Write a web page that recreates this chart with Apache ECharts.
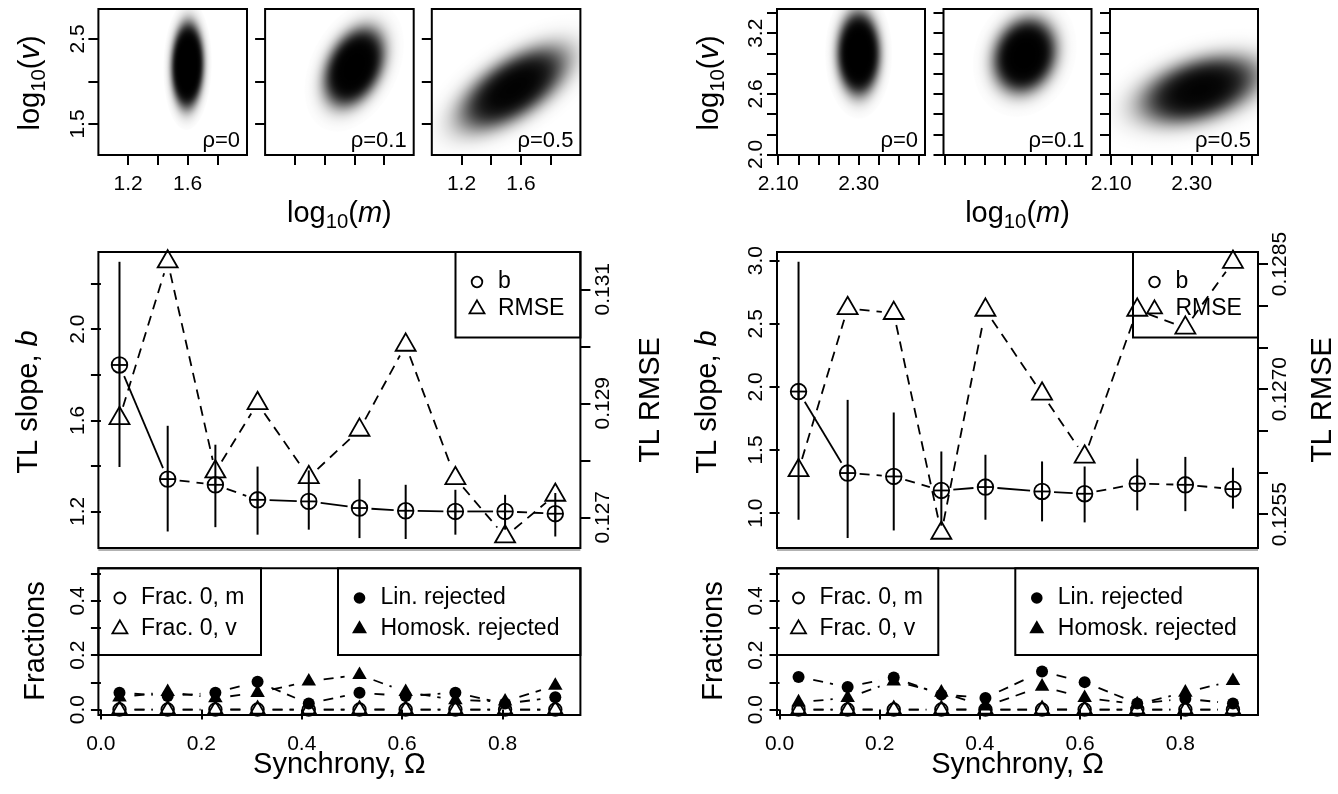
<!DOCTYPE html>
<html><head><meta charset="utf-8">
<script src="https://cdn.jsdelivr.net/npm/echarts@6/dist/echarts.min.js"></script>
<style>html,body{margin:0;padding:0;background:#fff}#c{width:1338px;height:794px}</style>
</head><body><div id="c"></div>
<script>
// ---------------- DATA ----------------
// scatter clouds: [mean log10(m), mean log10(v), sd m, sd v, correlation]
const cloudL = [[1.60, 2.19, 0.043, 0.20, 0.05], [1.60, 2.17, 0.088, 0.20, 0.35], [1.55, 1.92, 0.17, 0.23, 0.62]];
const cloudR = [[2.300, 3.00, 0.022, 0.17, 0.0], [2.299, 2.98, 0.034, 0.16, 0.15], [2.320, 2.64, 0.070, 0.16, 0.40]];
const rhoLabels = ['ρ=0', 'ρ=0.1', 'ρ=0.5'];

const omegaL = [0.037, 0.133, 0.228, 0.312, 0.414, 0.515, 0.607, 0.706, 0.805, 0.905];
const omegaR = [0.038, 0.136, 0.228, 0.323, 0.411, 0.524, 0.609, 0.714, 0.810, 0.905];

const bL    = [1.843, 1.342, 1.317, 1.251, 1.244, 1.215, 1.203, 1.200, 1.200, 1.190];
const bLoL  = [1.395, 1.112, 1.131, 1.098, 1.120, 1.083, 1.079, 1.098, 1.120, 1.090];
const bHiL  = [2.296, 1.576, 1.493, 1.397, 1.380, 1.342, 1.317, 1.295, 1.273, 1.281];
const rmseL = [0.128737, 0.131484, 0.127800, 0.129000, 0.127702, 0.128532, 0.130023, 0.127684, 0.126660, 0.127391];
const bLineL = ['solid', 'dashed', 'dashed', 'solid', 'solid', 'solid', 'solid', 'solid', 'dashed'];

const bR    = [1.963, 1.317, 1.290, 1.179, 1.206, 1.171, 1.153, 1.233, 1.224, 1.190];
const bLoR  = [0.947, 0.802, 0.862, 0.900, 0.947, 0.934, 0.926, 1.021, 1.015, 1.035];
const bHiR  = [2.992, 1.897, 1.797, 1.488, 1.462, 1.409, 1.369, 1.431, 1.445, 1.359];
const rmseR = [0.126025, 0.127969, 0.127910, 0.125275, 0.127949, 0.126943, 0.126189, 0.127949, 0.127734, 0.128524];
const bLineR = ['solid', 'dashed', 'dashed', 'solid', 'solid', 'solid', 'dashed', 'dashed', 'dashed'];

const frac0mL = [0, 0, 0, 0, 0, 0, 0, 0, 0, 0];
const frac0vL = [0, 0, 0, 0, 0, 0, 0, 0, 0, 0];
const linRejL = [0.062, 0.050, 0.062, 0.102, 0.022, 0.062, 0.050, 0.062, 0.022, 0.045];
const homRejL = [0.045, 0.065, 0.042, 0.062, 0.104, 0.128, 0.065, 0.035, 0.030, 0.088];

const frac0mR = [0, 0, 0, 0, 0, 0, 0, 0, 0, 0];
const frac0vR = [0, 0, 0, 0, 0, 0, 0, 0, 0, 0];
const linRejR = [0.120, 0.083, 0.118, 0.055, 0.043, 0.140, 0.101, 0.022, 0.040, 0.022];
const homRejR = [0.027, 0.043, 0.104, 0.063, 0.012, 0.085, 0.043, 0.020, 0.063, 0.106];

// tick values / labels
const topXTicksL = [1.2, 1.4, 1.6, 1.8], topXLabelsL = [1.2, 1.6];
const topYTicksL = [1.5, 2.0, 2.5], topYLabelsL = [1.5, 2.5];
const topXTicksR = [2.10, 2.15, 2.20, 2.25, 2.30, 2.35, 2.40, 2.45], topXLabelsR = [2.10, 2.30];
const topYTicksR = [2.0, 2.2, 2.4, 2.6, 2.8, 3.0, 3.2, 3.4], topYLabelsR = [2.0, 2.6, 3.2];
const midYTicksL = [1.2, 1.4, 1.6, 1.8, 2.0, 2.2], midYLabelsL = [1.2, 1.6, 2.0];
const rmseTicksL = [0.127, 0.128, 0.129, 0.130, 0.131], rmseLabelsL = [0.127, 0.129, 0.131];
const midYTicksR = [1.0, 1.5, 2.0, 2.5, 3.0], midYLabelsR = [1.0, 1.5, 2.0, 2.5, 3.0];
const rmseTicksR = [0.1255, 0.1260, 0.1265, 0.1270, 0.1275, 0.1280, 0.1285], rmseLabelsR = [0.1255, 0.1270, 0.1285];
const fracTicks = [0, 0.1, 0.2, 0.3, 0.4, 0.5], fracLabels = [0, 0.2, 0.4];
const omegaTicks = [0, 0.2, 0.4, 0.6, 0.8];

// ---------------- LAYOUT / STYLE ----------------
const F = "'Liberation Sans', Arial, Helvetica, sans-serif";
const TICK = 21, TITLE = 29, LEG = 23;
const halves = [
  {x0: 98.4, w: 482, topX: [98.4, 265.1, 431.8], topW: 148.6, xr: [1.0, 2.0], yr: [1.135, 2.853],
   xT: topXTicksL, xL: topXLabelsL, yT: topYTicksL, yL: topYLabelsL, xd: 1, cloud: cloudL,
   om: omegaL, b: bL, lo: bLoL, hi: bHiL, rm: rmseL, bl: bLineL, byr: [1.0395, 2.339], ryr: [0.126461, 0.131654],
   byT: midYTicksL, byL: midYLabelsL, ryT: rmseTicksL, ryL: rmseLabelsL, rd: 3,
   f0m: frac0mL, f0v: frac0vL, lin: linRejL, hom: homRejL, legB: [455.5, 580.4], leg1: [98.4, 261], leg2: [338, 580.4],
   tx: {v: 31, slope: 29, rmse: 651, frac: 36}},
  {x0: 777, w: 481, topX: [777, 943.5, 1110], topW: 148, xr: [2.097, 2.465], yr: [1.995, 3.44],
   xT: topXTicksR, xL: topXLabelsR, yT: topYTicksR, yL: topYLabelsR, xd: 2, cloud: cloudR,
   om: omegaR, b: bR, lo: bLoR, hi: bHiR, rm: rmseR, bl: bLineR, byr: [0.723, 3.069], ryr: [0.125095, 0.128644],
   byT: midYTicksR, byL: midYLabelsR, ryT: rmseTicksR, ryL: rmseLabelsR, rd: 4,
   f0m: frac0mR, f0v: frac0vR, lin: linRejR, hom: homRejR, legB: [1133, 1258], leg1: [777, 938.3], leg2: [1015.3, 1258],
   tx: {v: 710, slope: 708, rmse: 1323, frac: 714}}
];

const grids = [], xAxes = [], yAxes = [], series = [], graphics = [];
function addGrid(left, top, width, height) {
  grids.push({left, top, width, height, show: true, borderColor: '#000', borderWidth: 2,
    backgroundColor: 'transparent', containLabel: false, outerBoundsMode: 'none'});
  return grids.length - 1;
}
function makeAxis(gridIndex, min, max, ticks, labels, digits, extra) {
  const ax = {type: 'value', gridIndex, min, max, scale: true,
    axisLine: {show: false}, splitLine: {show: false},
    axisTick: {show: ticks.length > 0, customValues: ticks, length: 10, inside: false, lineStyle: {color: '#000', width: 2}},
    axisLabel: {show: labels.length > 0, customValues: labels, formatter: v => Number(v).toFixed(digits),
      fontSize: TICK, color: '#000', fontFamily: F, margin: 19, showMinLabel: true, showMaxLabel: true}};
  return Object.assign(ax, extra || {});
}
const BLACK = '#000';
function markerShape(kind, x, y, s) {
  const lw = 1.8;
  if (kind === 'circplus') return {type: 'group', children: [
    {type: 'circle', shape: {cx: x, cy: y, r: s}, style: {fill: 'none', stroke: BLACK, lineWidth: lw}},
    {type: 'line', shape: {x1: x - s, y1: y, x2: x + s, y2: y}, style: {stroke: BLACK, lineWidth: lw}},
    {type: 'line', shape: {x1: x, y1: y - s, x2: x, y2: y + s}, style: {stroke: BLACK, lineWidth: lw}}]};
  if (kind === 'circ') return {type: 'circle', shape: {cx: x, cy: y, r: s}, style: {fill: 'none', stroke: BLACK, lineWidth: lw}};
  if (kind === 'dot') return {type: 'circle', shape: {cx: x, cy: y, r: s}, style: {fill: BLACK}};
  const w = s, h = s * 0.866;
  const pts = [[x, y - 2 * h / 3], [x + w / 2, y + h / 3], [x - w / 2, y + h / 3]];
  if (kind === 'tri') return {type: 'polygon', shape: {points: pts}, style: {fill: 'none', stroke: BLACK, lineWidth: lw}};
  return {type: 'polygon', shape: {points: pts}, style: {fill: BLACK}};
}
function markSeries(xi, yi, xs, ys, kind, size, z) {
  series.push({type: 'custom', xAxisIndex: xi, yAxisIndex: yi, z: z || 5, clip: false,
    encode: {x: 0, y: 1}, data: xs.map((x, i) => [x, ys[i]]),
    renderItem: (params, api) => { const p = api.coord([api.value(0), api.value(1)]); return markerShape(kind, p[0], p[1], size); }});
}
function segSeries(xi, yi, xs, ys, gap, types) {
  series.push({type: 'custom', xAxisIndex: xi, yAxisIndex: yi, z: 3, clip: false,
    encode: {x: [0, 2], y: [1, 3]}, data: xs.slice(0, -1).map((x, i) => [x, ys[i], xs[i + 1], ys[i + 1]]),
    renderItem: (params, api) => {
      const a = api.coord([api.value(0), api.value(1)]), b = api.coord([api.value(2), api.value(3)]);
      const dx = b[0] - a[0], dy = b[1] - a[1], L = Math.hypot(dx, dy);
      if (L <= 2 * gap) return {type: 'group', children: []};
      const ux = dx / L, uy = dy / L;
      const dashed = !types || types[params.dataIndex] === 'dashed';
      const style = {stroke: BLACK, lineWidth: 1.8};
      if (dashed) style.lineDash = [10, 7];
      return {type: 'line', shape: {x1: a[0] + ux * gap, y1: a[1] + uy * gap, x2: b[0] - ux * gap, y2: b[1] - uy * gap}, style};
    }});
}
function errSeries(xi, yi, xs, lo, hi) {
  series.push({type: 'custom', xAxisIndex: xi, yAxisIndex: yi, z: 4, clip: false,
    encode: {x: 0, y: [1, 2]}, data: xs.map((x, i) => [x, lo[i], hi[i]]),
    renderItem: (params, api) => {
      const a = api.coord([api.value(0), api.value(1)]), b = api.coord([api.value(0), api.value(2)]);
      return {type: 'line', shape: {x1: a[0], y1: a[1], x2: b[0], y2: b[1]}, style: {stroke: BLACK, lineWidth: 2}};
    }});
}
const CLOUD_K = 1900;
function cloudSeries(xi, yi, c) {
  series.push({type: 'custom', xAxisIndex: xi, yAxisIndex: yi, z: 2, clip: true,
    encode: {x: 0, y: 1}, data: [c],
    renderItem: (params, api) => {
      const p = api.coord([api.value(0), api.value(1)]);
      const s = api.size([1, 1]);
      const sx = api.value(2) * s[0], sy = api.value(3) * s[1], r = api.value(4);
      const Sxx = sx * sx, Syy = sy * sy, Sxy = -r * sx * sy;
      const th = 0.5 * Math.atan2(2 * Sxy, Sxx - Syy);
      const hh = Math.sqrt(((Sxx - Syy) / 2) ** 2 + Sxy * Sxy);
      const l1 = (Sxx + Syy) / 2 + hh, l2 = Math.max((Sxx + Syy) / 2 - hh, 1e-6);
      const R = 3.8, keff = CLOUD_K / Math.sqrt(l1 * l2);
      const stops = [];
      for (let i = 0; i <= 30; i++) {
        const t = i / 30, rr = R * t;
        const op = 1 - Math.exp(-keff * Math.exp(-rr * rr / 2));
        stops.push({offset: t, color: 'rgba(0,0,0,' + op.toFixed(4) + ')'});
      }
      return {type: 'circle', x: p[0], y: p[1], scaleX: Math.sqrt(l1) * R, scaleY: Math.sqrt(l2) * R, rotation: -th,
        shape: {cx: 0, cy: 0, r: 1},
        style: {fill: {type: 'radial', x: 0.5, y: 0.5, r: 0.5, colorStops: stops}}};
    }});
}
function text(x, y, str, opt) {
  const o = opt || {};
  graphics.push({type: 'text', x, y, rotation: o.rot || 0, z: 10,
    style: {text: str, fill: '#000', font: (o.italic ? 'italic ' : '') + (o.size || TITLE) + 'px ' + F,
      textAlign: o.align || 'center', textVerticalAlign: o.valign || 'middle', rich: o.rich}});
}
function richTitle(size) {
  return {n: {fontSize: size, fontFamily: F, lineHeight: size * 1.25, verticalAlign: 'middle'},
          i: {fontSize: size, fontFamily: F, fontStyle: 'italic', lineHeight: size * 1.25, verticalAlign: 'middle'},
          s: {fontSize: size * 0.7, fontFamily: F, lineHeight: size * 0.6, verticalAlign: 'bottom'}};
}
function rect(x1, y1, x2, y2) {
  graphics.push({type: 'rect', z: 6, shape: {x: x1, y: y1, width: x2 - x1, height: y2 - y1},
    style: {fill: 'none', stroke: '#000', lineWidth: 2}});
}
function legendRow(x, y, kind, size, label) {
  const m = markerShape(kind, x, y, size); m.z = 7; graphics.push(m);
  text(x + 21, y, label, {size: LEG, align: 'left'});
}

// ---------------- BUILD ----------------
halves.forEach((H) => {
  // top scatter panels
  for (let k = 0; k < 3; k++) {
    const g = addGrid(H.topX[k], 9, H.topW, 146);
    const xi = xAxes.length, yi = yAxes.length;
    xAxes.push(makeAxis(g, H.xr[0], H.xr[1], H.xT, k === 1 ? [] : H.xL, H.xd, {position: 'bottom'}));
    const ya = makeAxis(g, H.yr[0], H.yr[1], H.yT, k === 0 ? H.yL : [], 1, {position: 'left'});
    ya.axisLabel.rotate = 90; ya.axisLabel.margin = 10;
    yAxes.push(ya);
    cloudSeries(xi, yi, H.cloud[k]);
    text(H.topX[k] + H.topW - 7, 141, rhoLabels[k], {size: 22, align: 'right'});
  }
  // middle panel
  const gm = addGrid(H.x0, 252, H.w, 296);
  const xm = xAxes.length;
  xAxes.push(makeAxis(gm, -0.005, 0.955, [], [], 1, {show: false}));
  const ybm = yAxes.length;
  const yb = makeAxis(gm, H.byr[0], H.byr[1], H.byT, H.byL, 1, {position: 'left'});
  yb.axisLabel.rotate = 90; yb.axisLabel.margin = 10; yAxes.push(yb);
  const yrm = yAxes.length;
  const yr = makeAxis(gm, H.ryr[0], H.ryr[1], H.ryT, H.ryL, H.rd, {position: 'right'});
  yr.axisLabel.rotate = 90; yr.axisLabel.margin = 12; yAxes.push(yr);
  errSeries(xm, ybm, H.om, H.lo, H.hi);
  segSeries(xm, ybm, H.om, H.b, 12, H.bl);
  segSeries(xm, yrm, H.om, H.rm, 12, null);
  markSeries(xm, ybm, H.om, H.b, 'circplus', 7.8, 5);
  markSeries(xm, yrm, H.om, H.rm, 'tri', 20, 5);
  // bottom panel
  const gb = addGrid(H.x0, 568.3, H.w, 146.7);
  const xb = xAxes.length;
  xAxes.push(makeAxis(gb, -0.005, 0.955, omegaTicks, omegaTicks, 1, {position: 'bottom'}));
  const yfb = yAxes.length;
  const yf = makeAxis(gb, -0.02, 0.52, fracTicks, fracLabels, 1, {position: 'left'});
  yf.axisLabel.rotate = 90; yf.axisLabel.margin = 10; yAxes.push(yf);
  segSeries(xb, yfb, H.om, H.f0m, 15, null);
  segSeries(xb, yfb, H.om, H.f0v, 15, null);
  segSeries(xb, yfb, H.om, H.lin, 15, null);
  segSeries(xb, yfb, H.om, H.hom, 15, null);
  markSeries(xb, yfb, H.om, H.f0m, 'circ', 6.3, 5);
  markSeries(xb, yfb, H.om, H.f0v, 'tri', 14.5, 5);
  markSeries(xb, yfb, H.om, H.lin, 'dot', 6, 5);
  markSeries(xb, yfb, H.om, H.hom, 'triFill', 14.5, 6);

  // legends
  rect(H.legB[0], 252, H.legB[1], 337.5);
  legendRow(H.legB[0] + 21.5, 282, 'circ', 5.3, 'b');
  legendRow(H.legB[0] + 21.5, 309, 'tri', 15, 'RMSE');
  rect(H.leg1[0], 568.3, H.leg1[1], 655);
  legendRow(H.leg1[0] + 21.5, 598, 'circ', 5.5, 'Frac. 0, m');
  legendRow(H.leg1[0] + 21.5, 629, 'tri', 15, 'Frac. 0, v');
  rect(H.leg2[0], 568.3, H.leg2[1], 655);
  legendRow(H.leg2[0] + 21.5, 598, 'dot', 5.8, 'Lin. rejected');
  legendRow(H.leg2[0] + 21.5, 629, 'triFill', 15, 'Homosk. rejected');

  // separator line
  graphics.push({type: 'line', z: 1, shape: {x1: H.x0, y1: 550, x2: H.x0 + H.w, y2: 550}, style: {stroke: '#999', lineWidth: 1.5}});

  // titles
  const cx = H.x0 + H.w / 2;
  text(H.tx.v, 83, '{n|log}{s|10}{n|(}{i|v}{n|)}', {rot: Math.PI / 2, rich: richTitle(TITLE)});
  text(cx, 214, '{n|log}{s|10}{n|(}{i|m}{n|)}', {rich: richTitle(TITLE)});
  text(H.tx.slope, 402, '{n|TL slope, }{i|b}', {rot: Math.PI / 2, rich: richTitle(TITLE)});
  text(H.tx.rmse, 400, 'TL RMSE', {rot: Math.PI / 2});
  text(H.tx.frac, 641, 'Fractions', {rot: Math.PI / 2});
  text(cx, 765, 'Synchrony, Ω', {});
});

const chart = echarts.init(document.getElementById('c'), null, {renderer: 'canvas'});
chart.setOption({animation: false, backgroundColor: '#fff', grid: grids, xAxis: xAxes, yAxis: yAxes,
  series: series, graphic: {elements: graphics}});
</script></body></html>
